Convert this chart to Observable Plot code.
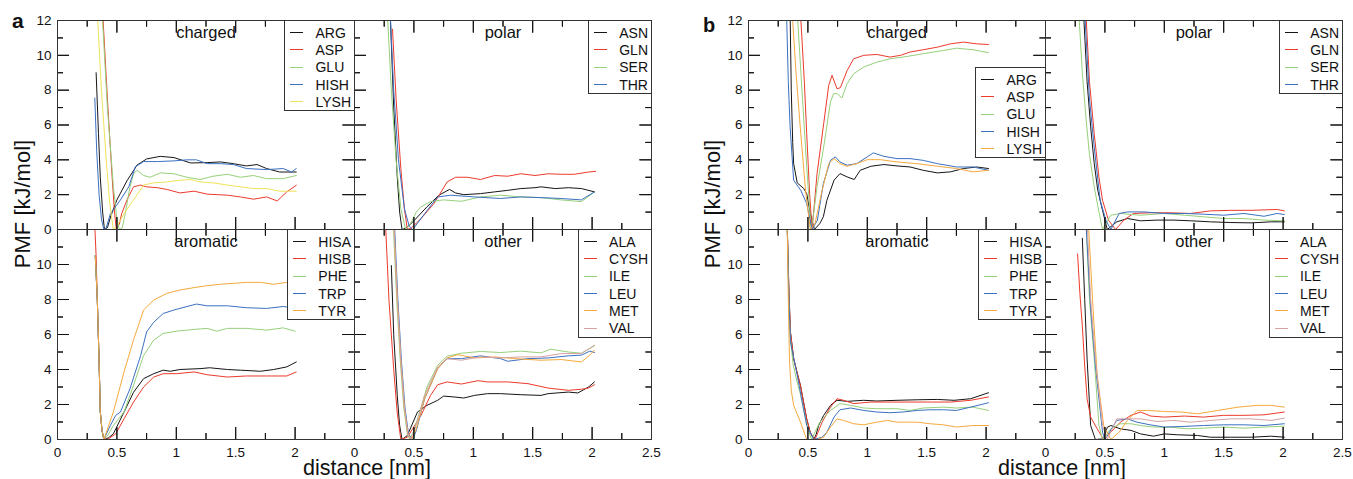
<!DOCTYPE html>
<html><head><meta charset="utf-8">
<script src="https://cdn.jsdelivr.net/npm/d3@7"></script>
<script src="https://cdn.jsdelivr.net/npm/@observablehq/plot@0.6"></script>
<style>
body{margin:0;background:#fff;font-family:"Liberation Sans",Arial,sans-serif;}
#root{position:relative;width:1353px;height:479px;overflow:hidden;background:#fff;color:#111;}
#root svg{position:absolute;max-width:none;background:transparent;overflow:visible;}
.lg{position:absolute;border:1px solid #333;background:#fff;padding:3px 3px 0 5px;font-size:14px;color:#111;}
.lg .row{display:flex;align-items:center;height:17.3px;white-space:nowrap;}
.lg .sw{width:13px;height:0;border-top:1px solid;margin-right:12px;}
.lbl{position:absolute;white-space:nowrap;line-height:1;}
</style></head>
<body><div id="root"></div>
<script>
// ---------- data (distance nm, PMF kJ/mol) ----------
const a_charged = {
  ARG:[[0.325,9.0],[0.345,5.5],[0.36,3.0],[0.38,1.0],[0.395,0],[0.42,0.1],[0.45,0.8],[0.5,1.7],[0.585,2.8],[0.67,3.7],[0.75,4.05],[0.865,4.2],[0.98,4.13],[1.12,3.82],[1.26,3.84],[1.37,3.88],[1.48,3.78],[1.59,3.65],[1.68,3.73],[1.76,3.5],[1.87,3.3],[2.01,3.3]],
  ASP:[[0.38,12.5],[0.42,7.5],[0.46,3],[0.48,1],[0.495,0],[0.52,0.3],[0.54,0.9],[0.585,1.7],[0.64,2.45],[0.70,2.55],[0.75,2.45],[0.84,2.4],[0.92,2.3],[1.03,2.1],[1.15,2.2],[1.26,2.03],[1.43,1.97],[1.54,1.87],[1.65,1.74],[1.76,1.87],[1.85,1.64],[1.93,2.16],[2.01,2.54]],
  GLU:[[0.375,12.5],[0.42,7],[0.47,2.5],[0.5,0.6],[0.52,0],[0.545,0.1],[0.57,0.9],[0.61,2.45],[0.64,3.2],[0.67,3.4],[0.725,3.1],[0.78,3.0],[0.865,3.25],[0.98,3.2],[1.09,3.0],[1.2,2.87],[1.31,3.06],[1.43,3.17],[1.54,3.0],[1.65,3.1],[1.76,2.92],[1.9,2.92],[2.01,3.1]],
  HISH:[[0.314,7.55],[0.33,4.5],[0.35,2.0],[0.37,0.6],[0.39,0],[0.41,0.1],[0.445,0.9],[0.53,1.7],[0.6,2.45],[0.655,3.6],[0.725,3.9],[0.84,3.9],[0.98,3.94],[1.09,4.0],[1.17,4.0],[1.26,3.78],[1.37,3.78],[1.48,3.73],[1.59,3.5],[1.76,3.44],[1.9,3.5],[1.97,3.3],[2.01,3.5]],
  LYSH:[[0.335,12.5],[0.37,8],[0.41,4],[0.44,1.5],[0.47,0],[0.5,0.2],[0.56,0.9],[0.64,1.7],[0.725,2.55],[0.81,2.68],[0.92,2.73],[1.03,2.83],[1.12,2.87],[1.2,2.73],[1.31,2.68],[1.43,2.55],[1.54,2.45],[1.65,2.35],[1.76,2.35],[1.87,2.2],[2.01,2.2]]
};
const a_polar = {
  ASN:[[0.3,12.5],[0.33,7],[0.36,3],[0.38,1],[0.40,0],[0.44,0.1],[0.5,0.5],[0.61,1.3],[0.71,1.97],[0.8,2.3],[0.85,2.1],[0.92,2.0],[1.06,2.06],[1.18,2.16],[1.29,2.25],[1.4,2.35],[1.52,2.4],[1.57,2.45],[1.69,2.35],[1.8,2.4],[1.91,2.35],[2.02,2.16]],
  GLN:[[0.32,11.5],[0.35,7.5],[0.39,3.5],[0.42,1.2],[0.445,0],[0.48,0.1],[0.56,0.63],[0.67,1.5],[0.78,2.73],[0.85,3.0],[0.95,3.0],[1.06,2.87],[1.18,3.1],[1.29,3.06],[1.4,3.2],[1.52,3.1],[1.63,3.2],[1.74,3.17],[1.85,3.17],[1.97,3.3],[2.03,3.34]],
  SER:[[0.276,12.5],[0.31,8],[0.35,4],[0.39,1.2],[0.43,0],[0.47,0.3],[0.52,1.0],[0.56,1.3],[0.64,1.6],[0.75,1.7],[0.9,1.62],[1.06,1.87],[1.23,1.97],[1.4,1.87],[1.57,1.83],[1.74,1.7],[1.91,1.6],[2.02,2.16]],
  THR:[[0.30,12.5],[0.33,8],[0.37,4],[0.42,1.2],[0.46,0.2],[0.49,0],[0.59,0.9],[0.7,1.87],[0.81,1.97],[1.01,1.87],[1.23,1.78],[1.4,1.87],[1.57,1.83],[1.74,1.78],[1.91,1.7],[2.02,2.16]]
};
const a_aromatic = {
  HISA:[[0.318,10.5],[0.335,8],[0.35,4.5],[0.36,1.6],[0.375,0.5],[0.39,0],[0.43,0.1],[0.47,0.32],[0.56,1.57],[0.64,2.7],[0.725,3.48],[0.81,3.76],[0.89,3.96],[0.95,3.9],[1.03,4.0],[1.2,4.05],[1.28,4.1],[1.43,4.0],[1.54,3.96],[1.71,3.9],[1.82,4.0],[1.93,4.15],[2.01,4.43]],
  HISB:[[0.312,12.5],[0.325,10.5],[0.335,8],[0.35,4.5],[0.36,1.6],[0.375,0.5],[0.39,0.1],[0.42,0],[0.49,0.32],[0.56,1.18],[0.64,2.14],[0.725,3.0],[0.81,3.57],[0.89,3.76],[1.0,3.76],[1.15,3.86],[1.26,3.7],[1.43,3.57],[1.59,3.63],[1.76,3.63],[1.93,3.63],[2.01,3.86]],
  PHE:[[0.318,10.5],[0.335,8],[0.35,4.5],[0.36,1.6],[0.375,0.5],[0.39,0],[0.42,0.2],[0.47,0.8],[0.56,1.57],[0.64,3.1],[0.725,4.8],[0.81,5.68],[0.89,6.06],[1.0,6.19],[1.15,6.29],[1.26,6.35],[1.34,6.19],[1.43,6.35],[1.59,6.35],[1.76,6.25],[1.9,6.38],[2.0,6.19]],
  TRP:[[0.318,10.5],[0.335,8],[0.35,4.5],[0.36,1.6],[0.375,0.5],[0.39,0],[0.445,0.8],[0.49,1.38],[0.53,1.57],[0.61,2.9],[0.7,4.8],[0.75,6.15],[0.81,6.7],[0.89,7.2],[0.98,7.4],[1.09,7.6],[1.17,7.74],[1.26,7.64],[1.43,7.64],[1.59,7.53],[1.76,7.49],[1.9,7.6],[2.0,7.5]],
  TYR:[[0.318,10.5],[0.335,8],[0.35,4.5],[0.36,1.6],[0.375,0.5],[0.39,0],[0.47,1.57],[0.56,3.86],[0.64,5.7],[0.725,7.4],[0.81,7.97],[0.92,8.35],[1.03,8.54],[1.15,8.68],[1.26,8.79],[1.37,8.87],[1.48,8.92],[1.59,8.98],[1.71,8.98],[1.82,8.87],[1.93,8.98],[2.0,8.98]]
};
const a_other = {
  ALA:[[0.31,9.94],[0.33,6],[0.36,2.5],[0.38,0.8],[0.40,0],[0.445,0.23],[0.53,1.57],[0.61,1.95],[0.7,2.24],[0.75,2.48],[0.84,2.43],[0.92,2.37],[1.01,2.52],[1.12,2.62],[1.23,2.62],[1.4,2.56],[1.57,2.52],[1.63,2.62],[1.8,2.71],[1.88,2.66],[1.97,3.0],[2.02,3.29]],
  CYSH:[[0.26,12.5],[0.29,8],[0.33,4],[0.36,1.5],[0.39,0],[0.445,0.13],[0.56,1.38],[0.64,2.52],[0.7,3.13],[0.78,3.29],[0.9,3.17],[1.04,3.36],[1.12,3.29],[1.29,3.29],[1.46,3.19],[1.63,2.94],[1.8,2.81],[1.91,2.87],[1.97,2.94],[2.02,3.13]],
  ILE:[[0.325,12.5],[0.355,8],[0.385,4.5],[0.415,1.8],[0.445,0.3],[0.465,0],[0.5,0.5],[0.55,1.6],[0.61,3.0],[0.7,4.24],[0.78,4.76],[0.9,4.93],[1.06,5.03],[1.23,4.97],[1.4,5.05],[1.57,4.95],[1.65,5.16],[1.8,5.0],[1.91,4.93],[2.02,5.35]],
  LEU:[[0.335,12.5],[0.365,8],[0.395,4.5],[0.425,1.8],[0.455,0.3],[0.49,0],[0.52,0.5],[0.59,2.33],[0.7,4.05],[0.78,4.62],[0.9,4.62],[1.06,4.78],[1.23,4.62],[1.29,4.47],[1.46,4.62],[1.63,4.66],[1.8,4.78],[1.91,4.82],[1.98,5.05],[2.02,4.97]],
  MET:[[0.33,12.5],[0.36,8],[0.39,4.5],[0.42,1.8],[0.45,0.3],[0.48,0],[0.52,0.6],[0.59,2.33],[0.7,4.05],[0.78,4.66],[0.87,4.85],[1.01,4.66],[1.18,4.72],[1.35,4.62],[1.57,4.53],[1.74,4.57],[1.91,4.43],[1.98,4.82],[2.02,5.1]],
  VAL:[[0.33,12.5],[0.36,8],[0.39,4.5],[0.42,1.8],[0.45,0.3],[0.47,0],[0.51,0.6],[0.59,2.52],[0.7,4.15],[0.78,4.62],[0.9,4.53],[1.06,4.72],[1.23,4.66],[1.4,4.72],[1.57,4.72],[1.74,4.91],[1.91,4.91],[2.02,5.39]]
};
const b_charged = {
  ARG:[[0.35,12.5],[0.36,8],[0.372,5],[0.38,3.78],[0.41,2.68],[0.465,2.35],[0.49,2.06],[0.52,0.92],[0.555,0],[0.6,0.34],[0.63,0.73],[0.66,1.68],[0.72,2.83],[0.77,3.21],[0.83,3.02],[0.89,2.87],[0.94,3.4],[1.03,3.63],[1.14,3.73],[1.25,3.65],[1.36,3.59],[1.47,3.4],[1.59,3.25],[1.7,3.31],[1.81,3.5],[1.92,3.59],[2.02,3.5]],
  ASP:[[0.437,12.5],[0.47,8.5],[0.49,5.5],[0.515,2.0],[0.535,0],[0.555,1.5],[0.577,3.21],[0.633,6.08],[0.675,8.27],[0.703,8.85],[0.745,8.08],[0.773,8.14],[0.83,9.13],[0.885,9.8],[0.97,10.0],[1.08,10.05],[1.19,9.9],[1.28,10.0],[1.36,10.19],[1.47,10.32],[1.59,10.47],[1.7,10.66],[1.81,10.76],[1.92,10.66],[2.02,10.62]],
  GLU:[[0.41,12.5],[0.45,8],[0.49,3.6],[0.527,0],[0.55,1.0],[0.577,2.45],[0.633,4.74],[0.69,7.32],[0.717,7.8],[0.745,7.8],[0.787,7.55],[0.83,8.37],[0.885,8.94],[0.97,9.33],[1.08,9.61],[1.19,9.8],[1.3,9.9],[1.47,10.09],[1.64,10.28],[1.75,10.41],[1.89,10.32],[2.02,10.15]],
  HISH:[[0.32,12.5],[0.335,8.5],[0.35,5.9],[0.38,2.83],[0.44,2.25],[0.49,1.49],[0.535,0],[0.58,0.53],[0.63,2.64],[0.69,3.97],[0.73,4.17],[0.77,3.88],[0.83,3.69],[0.91,3.78],[1.0,4.17],[1.05,4.4],[1.14,4.2],[1.25,4.07],[1.36,4.07],[1.47,3.97],[1.59,3.78],[1.75,3.59],[1.89,3.59],[2.02,3.4]],
  LYSH:[[0.367,12.5],[0.40,9],[0.44,5.5],[0.48,2.25],[0.52,0],[0.56,0.34],[0.62,2.25],[0.675,3.78],[0.72,4.07],[0.77,3.78],[0.83,3.63],[0.91,3.78],[1.0,4.01],[1.11,4.01],[1.25,3.88],[1.42,3.78],[1.59,3.63],[1.75,3.5],[1.89,3.31],[2.02,3.4]]
};
const b_polar = {
  ASN:[[0.32,12.5],[0.35,8.5],[0.38,5.9],[0.41,3.8],[0.44,2.25],[0.48,1.1],[0.52,0],[0.6,0.44],[0.69,0.63],[0.8,0.5],[0.94,0.54],[1.08,0.54],[1.22,0.5],[1.39,0.44],[1.56,0.4],[1.73,0.38],[1.9,0.44],[2.01,0.44]],
  GLN:[[0.34,12.5],[0.37,8.5],[0.41,5.5],[0.45,3.0],[0.48,1.68],[0.53,0.54],[0.59,0],[0.66,0.54],[0.74,0.92],[0.88,0.96],[1.05,0.96],[1.22,0.92],[1.39,1.07],[1.56,1.1],[1.73,1.1],[1.95,1.15],[2.01,1.07]],
  SER:[[0.28,12.5],[0.31,9],[0.34,6.46],[0.37,4.3],[0.41,2.45],[0.45,1.0],[0.48,0],[0.55,0.82],[0.63,0.92],[0.8,0.82],[1.0,0.92],[1.17,0.82],[1.33,0.73],[1.5,0.63],[1.67,0.63],[1.84,0.54],[2.01,0.5]],
  THR:[[0.33,12.5],[0.37,7.5],[0.41,4.74],[0.46,1.68],[0.51,0.5],[0.55,0],[0.62,0.92],[0.69,1.01],[0.83,1.01],[1.0,0.92],[1.17,0.92],[1.33,0.88],[1.5,0.82],[1.67,0.92],[1.84,0.76],[1.95,0.92],[2.01,0.86]]
};
const b_aromatic = {
  HISA:[[0.325,12.5],[0.34,8.5],[0.353,6.15],[0.38,4.62],[0.41,3.8],[0.437,3.1],[0.47,1.9],[0.49,1.18],[0.52,0.4],[0.55,0],[0.57,0.3],[0.59,0.8],[0.633,1.38],[0.69,1.95],[0.745,2.24],[0.83,2.18],[0.97,2.24],[1.08,2.2],[1.25,2.24],[1.42,2.27],[1.59,2.29],[1.73,2.24],[1.87,2.33],[2.02,2.67]],
  HISB:[[0.325,12.5],[0.34,8.5],[0.353,6.15],[0.38,4.62],[0.41,3.8],[0.437,3.1],[0.47,1.9],[0.49,1.18],[0.52,0.4],[0.56,0],[0.62,0.99],[0.69,1.85],[0.745,2.33],[0.8,2.24],[0.885,2.05],[1.03,2.14],[1.19,2.14],[1.36,2.14],[1.53,2.14],[1.7,2.14],[1.87,2.24],[2.02,2.43]],
  PHE:[[0.325,12.5],[0.338,8.5],[0.35,6.0],[0.375,4.3],[0.405,3.4],[0.437,2.6],[0.47,1.5],[0.5,0.6],[0.53,0],[0.6,0.99],[0.69,1.66],[0.77,2.05],[0.86,1.95],[0.97,1.8],[1.08,1.76],[1.25,1.76],[1.36,1.66],[1.47,1.8],[1.64,1.85],[1.75,1.8],[1.89,1.85],[2.02,1.66]],
  TRP:[[0.325,12.5],[0.34,8],[0.353,5.58],[0.41,3.67],[0.49,0.8],[0.55,0],[0.62,0.13],[0.66,0.42],[0.72,1.28],[0.77,1.7],[0.86,1.8],[0.97,1.66],[1.08,1.57],[1.19,1.53],[1.3,1.57],[1.42,1.66],[1.53,1.7],[1.64,1.7],[1.75,1.66],[1.87,1.85],[2.02,2.1]],
  TYR:[[0.325,12.5],[0.335,8],[0.345,4.5],[0.36,2.8],[0.38,1.95],[0.437,1.0],[0.49,0],[0.577,0],[0.633,0.13],[0.69,0.71],[0.745,1.18],[0.8,1.09],[0.885,0.9],[0.97,0.84],[1.08,0.99],[1.17,1.09],[1.25,0.99],[1.42,0.99],[1.53,0.9],[1.64,0.84],[1.75,0.71],[1.89,0.8],[2.02,0.8]]
};
const b_other = {
  ALA:[[0.31,11.5],[0.33,8],[0.35,4.62],[0.38,0.8],[0.42,0],[0.49,0.04],[0.52,0.7],[0.55,0.8],[0.63,0.61],[0.72,0.52],[0.8,0.32],[0.91,0.19],[1.0,0.32],[1.11,0.27],[1.28,0.23],[1.39,0.13],[1.56,0.13],[1.73,0.13],[1.9,0.19],[2.01,0.13]],
  CYSH:[[0.27,10.6],[0.29,8.3],[0.31,6.5],[0.33,4.2],[0.35,2.33],[0.38,1.28],[0.435,0.61],[0.49,0],[0.55,0.42],[0.63,0.99],[0.72,1.38],[0.8,1.57],[0.885,1.34],[1.0,1.28],[1.17,1.34],[1.33,1.28],[1.5,1.38],[1.67,1.38],[1.84,1.41],[2.01,1.57]],
  ILE:[[0.34,12.5],[0.37,8],[0.41,4.62],[0.45,0.8],[0.48,0],[0.55,0.61],[0.63,0.9],[0.72,0.9],[0.8,0.8],[0.91,0.71],[1.05,0.71],[1.19,0.61],[1.33,0.65],[1.5,0.71],[1.67,0.65],[1.84,0.71],[2.01,0.76]],
  LEU:[[0.34,12.5],[0.38,7.5],[0.42,4.24],[0.48,0.42],[0.5,0],[0.6,1.09],[0.69,1.18],[0.77,0.99],[0.88,0.84],[1.0,0.71],[1.14,0.74],[1.33,0.8],[1.5,0.84],[1.67,0.84],[1.84,0.8],[2.01,0.9]],
  MET:[[0.36,12.5],[0.4,7.5],[0.435,3.67],[0.49,0.8],[0.55,0],[0.62,0.42],[0.69,1.09],[0.77,1.66],[0.86,1.66],[1.0,1.6],[1.14,1.57],[1.28,1.47],[1.45,1.66],[1.62,1.85],[1.78,1.95],[1.9,1.95],[2.01,1.85]],
  VAL:[[0.35,12.5],[0.38,8],[0.42,4.62],[0.48,0.8],[0.52,0],[0.6,1.18],[0.69,1.18],[0.8,1.18],[0.94,1.03],[1.08,1.09],[1.22,0.99],[1.39,1.09],[1.56,1.18],[1.73,1.18],[1.9,1.09],[2.01,1.22]]
};
// ---------- tick values ----------
const xMajor = [0, 0.5, 1, 1.5, 2, 2.5];
const xMinor = [0.25, 0.75, 1.25, 1.75, 2.25];
const yMajor = [0, 2, 4, 6, 8, 10, 12];
const yMinor = [1, 3, 5, 7, 9, 11];
const xLabelsLeft = [0, 0.5, 1, 1.5, 2];
const xLabelsRight = [0, 0.5, 1, 1.5, 2, 2.5];
const yLabelsTop = [0, 2, 4, 6, 8, 10, 12];
const yLabelsBottom = [0, 2, 4, 6, 8, 10];

// ---------- styles ----------
const K="#151515", R="#ec3a2c", G="#97d07a", B="#3b70c2", Y="#eee35a", O="#f5a93c", P="#d6a2a2";
const root = document.getElementById("root");

function rows(obj){ return Object.entries(obj).flatMap(([name, pts]) => pts.map(([x,y]) => ({name, x, y}))); }

function facet(cfg){
  const ml=45, mr=4, mt=4, mb=34, W=297, H=cfg.h;
  const MAJ=12, MIN=6;
  const names = Object.keys(cfg.data);
  const tk = {stroke:"#111", strokeWidth:1};
  // inward ticks drawn by Plot axis marks (negative tick size = pointing into the frame)
  const inTicks = (axis, anchor, vals, len) => axis(vals, {anchor, tickSize: -len, tickPadding: 0, tickFormat: () => "", label: null, stroke: "#111"});
  const marks = [
    Plot.line(rows(cfg.data), {x:"x", y:"y", z:"name", stroke:"name", strokeWidth:1, clip:true}),
    Plot.ruleX(xMajor, {...tk, insetTop: H-MAJ}),
    Plot.ruleX(xMinor, {...tk, insetTop: H-MIN}),
    Plot.ruleX(xMajor, {...tk, insetBottom: H-MAJ}),
    Plot.ruleX(xMinor, {...tk, insetBottom: H-MIN}),
    Plot.ruleY(yMajor, {...tk, insetRight: W-MAJ}),
    Plot.ruleY(yMinor, {...tk, insetRight: W-MIN}),
    Plot.ruleY(yMajor, {...tk, insetLeft: W-MAJ}),
    Plot.ruleY(yMinor, {...tk, insetLeft: W-MIN}),
    inTicks(Plot.axisX, "bottom", xMajor, MAJ),
    inTicks(Plot.axisX, "bottom", xMinor, MIN),
    inTicks(Plot.axisX, "top", xMajor, MAJ),
    inTicks(Plot.axisX, "top", xMinor, MIN),
    inTicks(Plot.axisY, "left", yMajor, MAJ),
    inTicks(Plot.axisY, "left", yMinor, MIN),
    inTicks(Plot.axisY, "right", yMajor, MAJ),
    inTicks(Plot.axisY, "right", yMinor, MIN),
    Plot.frame({stroke:"#333", strokeWidth:1}),
    Plot.text([cfg.title], {frameAnchor:"top", dy:12, text:d=>d, fontSize:16.5, fill:"#111", lineAnchor:"middle"})
  ];
  if (cfg.yLabels) marks.push(Plot.axisY(cfg.yLabels, {anchor:"left", tickSize:0, tickPadding:6, label:null, fill:"#111"}));
  if (cfg.xLabels) marks.push(Plot.axisX(cfg.xLabels, {anchor:"bottom", tickSize:0, tickPadding:8, label:null, fill:"#111", tickFormat:d=>String(d)}));
  const svg = Plot.plot({
    width: W+ml+mr, height: H+mt+mb,
    marginLeft: ml, marginRight: mr, marginTop: mt, marginBottom: mb,
    x: {domain:[0,2.5]}, y: {domain:[0,12]},
    color: {domain: names, range: cfg.colors},
    style: "font-family: 'Liberation Sans', Arial, sans-serif; font-size: 13.5px; background: transparent; color: #111; overflow: visible;",
    marks
  });
  svg.style.position = "absolute";
  svg.style.left = (cfg.left - ml) + "px";
  svg.style.top = (cfg.top - mt) + "px";
  root.appendChild(svg);
  // legend box in the facet's upper right corner
  const lg = document.createElement("div");
  lg.className = "lg";
  lg.style.right = (1353 - (cfg.left + W + 1)) + "px";
  lg.style.top = (cfg.legendTop ?? cfg.top) + "px";
  names.forEach((n, i) => {
    const r = document.createElement("div"); r.className = "row";
    const s = document.createElement("span"); s.className = "sw"; s.style.borderTopColor = cfg.colors[i];
    const t = document.createElement("span"); t.textContent = n;
    r.appendChild(s); r.appendChild(t); lg.appendChild(r);
  });
  cfg.legend = lg;
}

const panels = [
  {data:a_charged, title:"charged", left:57, top:20, h:209, colors:[K,R,G,B,Y], yLabels:yLabelsTop},
  {data:a_polar, title:"polar", left:354, top:20, h:209, colors:[K,R,G,B]},
  {data:a_aromatic, title:"aromatic", left:57, top:229, h:210, colors:[K,R,G,B,O], yLabels:yLabelsBottom, xLabels:xLabelsLeft},
  {data:a_other, title:"other", left:354, top:229, h:210, colors:[K,R,G,B,O,P], xLabels:xLabelsRight},
  {data:b_charged, title:"charged", left:748, top:20, h:209, colors:[K,R,G,B,O], yLabels:yLabelsTop, legendTop:67},
  {data:b_polar, title:"polar", left:1045, top:20, h:209, colors:[K,R,G,B]},
  {data:b_aromatic, title:"aromatic", left:748, top:229, h:210, colors:[K,R,G,B,O], yLabels:yLabelsBottom, xLabels:xLabelsLeft},
  {data:b_other, title:"other", left:1045, top:229, h:210, colors:[K,R,G,B,O,P], xLabels:xLabelsRight}
];
panels.forEach(facet);
panels.forEach(p => root.appendChild(p.legend));

function label(text, css){
  const d = document.createElement("div"); d.className = "lbl"; d.textContent = text;
  Object.assign(d.style, css); root.appendChild(d);
}
label("a", {left:"12px", top:"10px", fontSize:"21px", fontWeight:"bold"});
label("b", {left:"703px", top:"15px", fontSize:"20px", fontWeight:"bold"});
label("PMF [kJ/mol]", {left:"22.5px", top:"204px", fontSize:"22px", transform:"translate(-50%,-50%) rotate(-90deg)"});
label("PMF [kJ/mol]", {left:"713px", top:"204px", fontSize:"22px", transform:"translate(-50%,-50%) rotate(-90deg)"});
label("distance [nm]", {left:"367px", top:"458px", fontSize:"21.5px", transform:"translateX(-50%)"});
label("distance [nm]", {left:"1062px", top:"458px", fontSize:"21.5px", transform:"translateX(-50%)"});
</script>
</body></html>
